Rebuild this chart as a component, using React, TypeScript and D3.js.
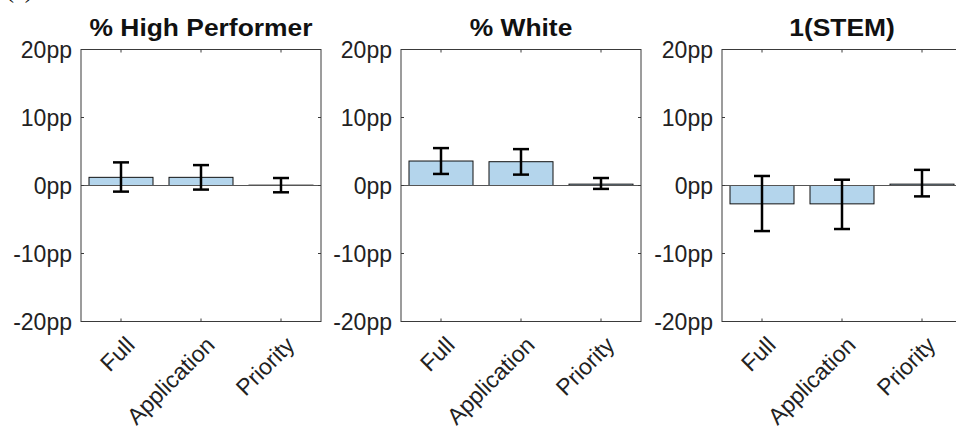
import React from "react";
import * as d3 from "d3";

const categories = ["Full", "Application", "Priority"];
const panelTitles = ["% High Performer", "% White", "1(STEM)"];
const yTicks = [-20, -10, 0, 10, 20];

const highPerfValues = [1.2, 1.2, 0.05];
const highPerfLow = [-0.9, -0.6, -1.0];
const highPerfHigh = [3.4, 3.0, 1.1];

const whiteValues = [3.6, 3.5, 0.2];
const whiteLow = [1.7, 1.6, -0.5];
const whiteHigh = [5.5, 5.35, 1.1];

const stemValues = [-2.7, -2.7, 0.2];
const stemLow = [-6.7, -6.4, -1.6];
const stemHigh = [1.4, 0.85, 2.3];

const seriesValues = [highPerfValues, whiteValues, stemValues];
const seriesLow = [highPerfLow, whiteLow, stemLow];
const seriesHigh = [highPerfHigh, whiteHigh, stemHigh];

const W = 956;
const H = 431;
const panelLefts = [81, 401, 722];
const panelWidth = 240;
const top = 49.5;
const bottom = 321.5;
const axisColor = "#3a3a3a";
const textColor = "#222";
const barFill = "#b4d5ec";
const font = "'Liberation Sans', Arial, sans-serif";

function Panel({ idx }: { idx: number }) {
  const left = panelLefts[idx];
  const x = d3.scaleLinear().domain([0.5, 3.5]).range([left, left + panelWidth]);
  const y = d3.scaleLinear().domain([-20, 20]).range([bottom, top]);
  const vals = seriesValues[idx];
  const lows = seriesLow[idx];
  const highs = seriesHigh[idx];
  const bw = x(0.8) - x(0);
  const cap = 8;
  const tl = 3;
  return (
    <g>
      <text
        transform={`translate(${left + panelWidth / 2},36) scale(1.1,1)`}
        textAnchor="middle"
        fontFamily={font}
        fontWeight="bold"
        fontSize={24}
        fill="#111"
      >
        {panelTitles[idx]}
      </text>
      {vals.map((v, i) => {
        const y0 = y(0);
        const y1 = y(v);
        return (
          <rect
            key={"b" + i}
            x={x(i + 1) - bw / 2}
            y={Math.min(y0, y1)}
            width={bw}
            height={Math.abs(y1 - y0)}
            fill={barFill}
            stroke="#111"
            strokeWidth={1}
          />
        );
      })}
      <line x1={left} x2={left + panelWidth} y1={y(0)} y2={y(0)} stroke="#555" strokeWidth={1} />
      {vals.map((v, i) => {
        const cx = x(i + 1);
        return (
          <g key={"e" + i} stroke="#000" strokeWidth={2.5}>
            <line x1={cx} x2={cx} y1={y(lows[i])} y2={y(highs[i])} />
            <line x1={cx - cap} x2={cx + cap} y1={y(lows[i])} y2={y(lows[i])} />
            <line x1={cx - cap} x2={cx + cap} y1={y(highs[i])} y2={y(highs[i])} />
          </g>
        );
      })}
      <rect x={left} y={top} width={panelWidth} height={bottom - top} fill="none" stroke={axisColor} strokeWidth={1} />
      {yTicks.map((t) => (
        <g key={"y" + t}>
          <line x1={left} x2={left + tl} y1={y(t)} y2={y(t)} stroke={axisColor} />
          <line x1={left + panelWidth} x2={left + panelWidth - tl} y1={y(t)} y2={y(t)} stroke={axisColor} />
          <text
            x={left - 9}
            y={y(t)}
            dy="0.36em"
            textAnchor="end"
            fontFamily={font}
            fontSize={23}
            fill={textColor}
          >
            {t + "pp"}
          </text>
        </g>
      ))}
      {categories.map((c, i) => (
        <g key={"x" + i}>
          <line x1={x(i + 1)} x2={x(i + 1)} y1={bottom} y2={bottom - tl} stroke={axisColor} />
          <line x1={x(i + 1)} x2={x(i + 1)} y1={top} y2={top + tl} stroke={axisColor} />
          <text
            transform={`translate(${x(i + 1) + 15},${bottom + 25}) rotate(-45)`}
            textAnchor="end"
            fontFamily={font}
            fontSize={23}
            fill={textColor}
          >
            {c}
          </text>
        </g>
      ))}
    </g>
  );
}

export default function App() {
  return (
    <svg
      width={W}
      height={H}
      style={{ position: "absolute", left: 0, top: 0, background: "#fff" }}
    >
      <rect x={0} y={0} width={W} height={H} fill="#fff" />
      <text x={6} y={-2} fontFamily="'Liberation Serif', 'Times New Roman', serif" fontSize={24} fill="#111">
        (a)
      </text>
      {panelTitles.map((_, i) => (
        <Panel key={i} idx={i} />
      ))}
    </svg>
  );
}
